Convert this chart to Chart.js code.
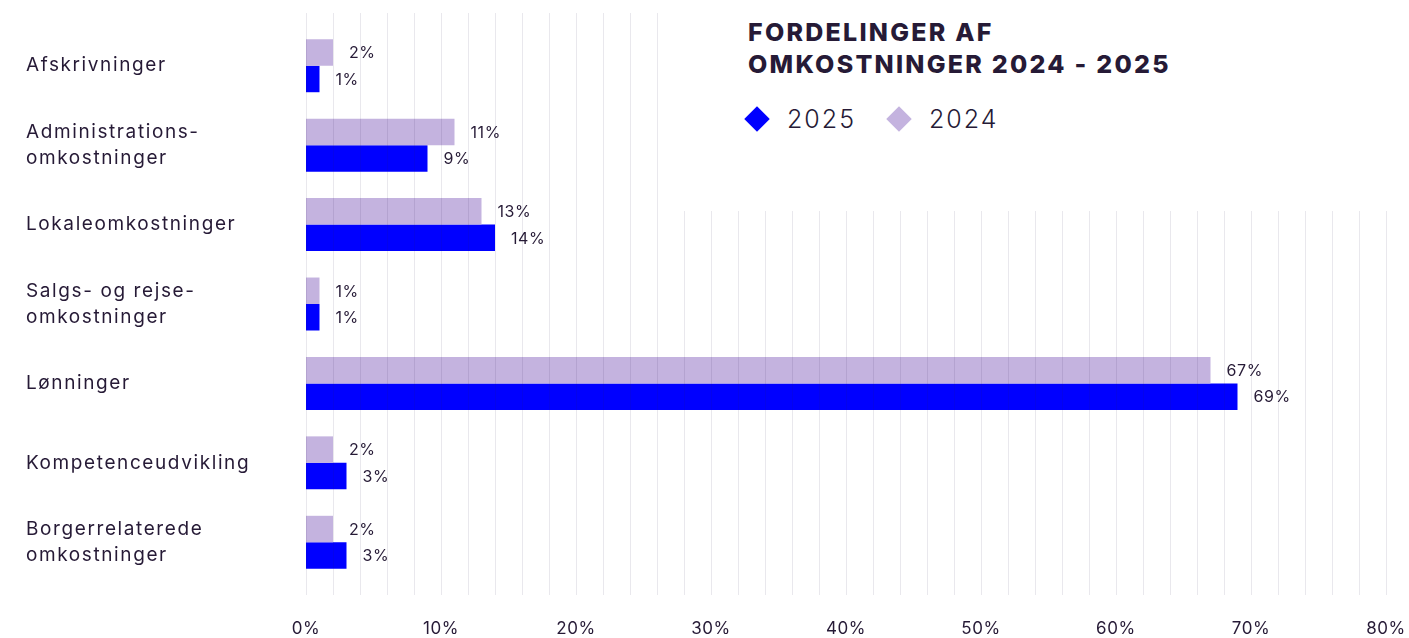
<!DOCTYPE html>
<html>
<head>
<meta charset="utf-8">
<script src="https://cdn.jsdelivr.net/npm/chart.js@4.4.1/dist/chart.umd.min.js"></script>
<style>
    html, body { margin: 0; padding: 0; background: #fff; }
    #wrap { position: relative; width: 1409px; height: 638px; }
    #cover { position: absolute; left: 670px; top: 0; width: 739px; height: 211px; background: #fff; }
    #title { position: absolute; left: 748px; top: 16px; font: 800 25px Inter, sans-serif; letter-spacing: 2.25px; line-height: 32px; color: #261a36; }
    .leg { position: absolute; top: 104px; height: 30px; display: flex; align-items: center; font: 300 25px Inter, sans-serif; letter-spacing: 2px; color: #261a36; }
    .dia { width: 18px; height: 18px; transform: rotate(45deg); margin: 0 21px 0 6px; }
</style>
</head>
<body>
<div id="wrap">
    <canvas id="chart" width="1409" height="638"></canvas>
    <div id="cover"></div>
    <div id="title">FORDELINGER AF<br>OMKOSTNINGER 2024 - 2025</div>
    <div class="leg" style="left:742px"><div class="dia" style="background:#0000ff"></div>2025</div>
    <div class="leg" style="left:884px"><div class="dia" style="background:#c4b3df"></div>2024</div>
</div>
<script>
const categories = [
    'Afskrivninger',
    ['Administrations-', 'omkostninger'],
    'Lokaleomkostninger',
    ['Salgs- og rejse-', 'omkostninger'],
    'Lønninger',
    'Kompetenceudvikling',
    ['Borgerrelaterede', 'omkostninger']
];
const values2024 = [2, 11, 13, 1, 67, 2, 2];
const values2025 = [1, 9, 14, 1, 69, 3, 3];
const xTickStep = 2;
const xMax = 80;

const textColor = '#261a36';

// category labels are drawn first (wide spacing), the x labels later (z: 1) with less
const spacing = {
    id: 'spacing',
    beforeDraw(chart) { chart.ctx.letterSpacing = '1.6px'; },
    afterDatasetsDraw(chart) { chart.ctx.letterSpacing = '0.6px'; }
};

// grid lines are drawn over the bars and reach a bit past the plot area
const gridPlugin = {
    id: 'gridOver',
    afterDatasetsDraw(chart) {
        const { ctx, chartArea, scales } = chart;
        const x = scales.x;
        ctx.save();
        ctx.strokeStyle = 'rgba(40, 30, 80, 0.1)';
        ctx.lineWidth = 1;
        x.ticks.forEach((tick, i) => {
            const px = Math.round(x.getPixelForTick(i)) + 0.5;
            ctx.beginPath();
            ctx.moveTo(px, chartArea.top - 13);
            ctx.lineTo(px, chartArea.bottom + 13);
            ctx.stroke();
        });
        ctx.restore();
    }
};

const valueLabels = {
    id: 'valueLabels',
    afterDraw(chart) {
        const ctx = chart.ctx;
        ctx.save();
        ctx.letterSpacing = '0.6px';
        ctx.font = '16px Inter, sans-serif';
        ctx.fillStyle = textColor;
        ctx.textAlign = 'left';
        ctx.textBaseline = 'middle';
        chart.data.datasets.forEach((ds, di) => {
            chart.getDatasetMeta(di).data.forEach((bar, i) => {
                ctx.fillText(ds.data[i] + '%', bar.x + 16, bar.y + 1);
            });
        });
        ctx.restore();
    }
};

new Chart(document.getElementById('chart'), {
    type: 'bar',
    data: {
        labels: categories,
        datasets: [
            { label: '2024', data: values2024, backgroundColor: '#c4b3df' },
            { label: '2025', data: values2025, backgroundColor: '#0000ff' }
        ]
    },
    options: {
        indexAxis: 'y',
        responsive: false,
        animation: false,
        categoryPercentage: 0.667,
        barPercentage: 1,
        layout: { padding: { left: 26, top: 22, right: 23, bottom: 0 } },
        plugins: {
            legend: { display: false },
            tooltip: { enabled: false }
        },
        scales: {
            x: {
                min: 0,
                max: xMax,
                grid: { display: false, drawTicks: false },
                border: { display: false },
                afterFit(scale) {
                    scale.height = 56;
                    scale.paddingLeft = 0;
                    scale.paddingRight = 0;
                },
                ticks: {
                    z: 1,
                    stepSize: xTickStep,
                    autoSkip: false,
                    maxRotation: 0,
                    padding: 37,
                    color: textColor,
                    font: { family: 'Inter', size: 17 },
                    callback: v => (v % 10 === 0 ? v + '%' : '')
                }
            },
            y: {
                grid: { display: false, drawTicks: false },
                border: { display: false },
                afterFit(scale) { scale.width = 280; },
                ticks: {
                    crossAlign: 'far',
                    padding: 0,
                    color: textColor,
                    font: { family: 'Inter', size: 19, lineHeight: 1.37 }
                }
            }
        }
    },
    plugins: [spacing, gridPlugin, valueLabels]
});
</script>
</body>
</html>
